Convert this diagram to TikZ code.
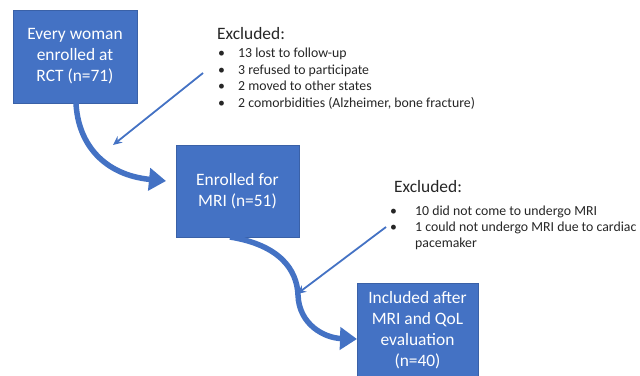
\documentclass[tikz,border=0pt]{standalone}
\usepackage{fontspec}
\setmainfont{Carlito}
\usetikzlibrary{arrows.meta}
\definecolor{boxblue}{HTML}{4472C4}
\definecolor{txt}{HTML}{262626}
\begin{document}
\begin{tikzpicture}[x=1pt,y=-1pt,
  stagebox/.style={fill=boxblue, draw=boxblue!85!black, line width=0.6pt, text=white, align=center, inner sep=0pt, font=\fontsize{17.4}{21}\selectfont},
  head/.style={anchor=base west, text=txt, inner sep=0pt, font=\fontsize{17.4}{21}\selectfont},
  item/.style={anchor=base west, text=txt, inner sep=0pt, font=\fontsize{13.8}{17}\selectfont},
  flow/.style={draw=boxblue, line width=5.5pt, -{Triangle[width=22pt,length=17pt]}},
  excl/.style={draw=boxblue, line width=1.8pt, -{Stealth[length=9pt,width=8pt]}}]
\useasboundingbox (0,0) rectangle (640,375);
\fill[white] (0,0) rectangle (640,375);
% boxes
\node[stagebox, minimum width=124pt, minimum height=93pt] (b1) at (75,56.5) {Every woman\\enrolled at\\RCT (n=71)};
\node[stagebox, minimum width=123pt, minimum height=92pt] (b2) at (237.5,191) {Enrolled for\\MRI (n=51)};
\node[stagebox, minimum width=121pt, minimum height=94pt] (b3) at (417.5,330) {Included after\\MRI and QoL\\evaluation\\(n=40)};
% exclusion block 1
\node[head] (e1) at (217,39) {Excluded:};
\node[item] (e1b1) at (218,57) {•};
\node[item] (e1t1) at (238,57) {13 lost to follow-up};
\node[item] (e1b2) at (218,74) {•};
\node[item] (e1t2) at (238,74) {3 refused to participate};
\node[item] (e1b3) at (218,90.5) {•};
\node[item] (e1t3) at (238,90.5) {2 moved to other states};
\node[item] (e1b4) at (218,107) {•};
\node[item] (e1t4) at (238,107) {2 comorbidities (Alzheimer, bone fracture)};
% exclusion block 2
\node[head] (e2) at (394,192) {Excluded:};
\node[item] (e2b1) at (390,215) {•};
\node[item] (e2t1) at (415,215) {10 did not come to undergo MRI};
\node[item] (e2b2) at (390,231.5) {•};
\node[item] (e2t2) at (415,231.5) {1 could not undergo MRI due to cardiac};
\node[item] (e2t3) at (415,247.5) {pacemaker};
% connector coordinates
\coordinate (f1s) at (76,103);
\coordinate (f1e) at (166,181);
\coordinate (f2s) at (230,237);
\coordinate (f2m) at (298,295);
\coordinate (f2e) at (357,339);
\coordinate (x1s) at (203,73);
\coordinate (x1e) at (113,145);
\coordinate (x2s) at (386,227);
\coordinate (x2e) at (297,294);
% flow arrows
\draw[flow] (f1s) .. controls (78,145) and (105,175) .. (f1e);
\draw[flow] (f2s) .. controls (280,245) and (297,270) .. (f2m) .. controls (299,325) and (325,338) .. (f2e);
% exclusion arrows
\draw[excl] (x1s) -- (x1e);
\draw[excl] (x2s) -- (x2e);
\end{tikzpicture}
\end{document}
